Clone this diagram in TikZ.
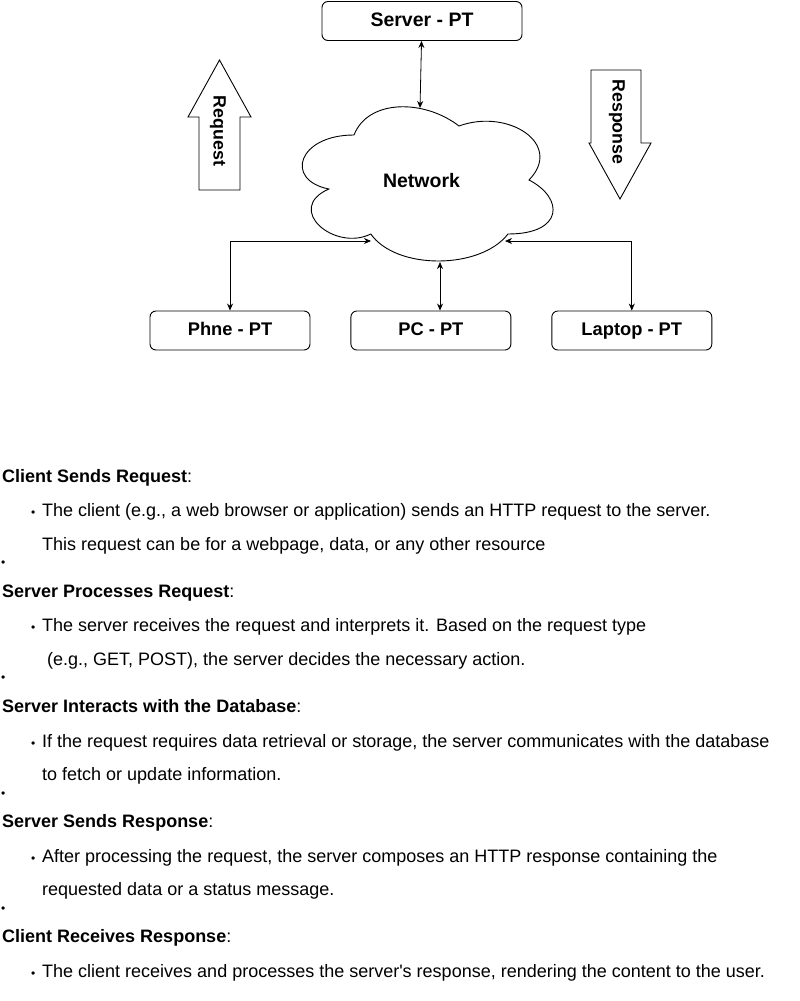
\documentclass[tikz,border=0pt]{standalone}
\usepackage{fontspec}
\setmainfont{Liberation Sans}
\usetikzlibrary{arrows.meta, positioning}

\begin{document}
\begin{tikzpicture}[
		x=1pt, y=-1pt,
		font=\fontsize{18}{21}\selectfont,
		% Styles
		ptbox/.style={draw, line width=0.9pt, rounded corners=6pt, minimum width=160, minimum height=39, text height=13.5pt, text depth=3.5pt, font=\bfseries\fontsize{18.3}{22}\selectfont},
		link/.style={{Stealth[length=7pt, width=6pt]}-{Stealth[length=7pt, width=6pt]}, line width=0.8pt},
		bigarrow/.style={draw, fill=white, line width=0.9pt},
		arrowlabel/.style={rotate=-90, inner sep=0pt, font=\bfseries\fontsize{17.8}{21}\selectfont},
		txt/.style={anchor=base west, inner sep=0pt},
		dot/.style={anchor=base west, inner sep=0pt, font=\fontsize{12}{14}\selectfont}
		]
		
		\useasboundingbox (0,0) rectangle (800,1001);
		\fill[white] (0,0) rectangle (800,1001);
		
		% =========================================================
		% 1. SERVER AND NETWORK CLOUD
		% =========================================================
		\node[ptbox, minimum width=200, font=\bfseries\fontsize{19.5}{22}\selectfont] (server) at (422,21) {Server - PT};
		
		\begin{scope}[shift={(284pt,-90pt)}, x=2.8pt, y=-1.8pt]
			\draw[line width=0.9pt, fill=white] (25,25) .. controls (5,25) and (0,50) .. (16,55)
			.. controls (0,66) and (18,90) .. (31,80)
			.. controls (40,100) and (70,100) .. (80,80)
			.. controls (100,80) and (100,60) .. (87.5,50)
			.. controls (100,30) and (80,10) .. (62.5,20)
			.. controls (50,5) and (30,5) .. (25,25) -- cycle;
		\end{scope}
		\node[font=\bfseries\fontsize{19.5}{22}\selectfont] (net) at (421.5,181) {Network};
		
		% points on the cloud outline
		\coordinate (netN) at (420,108);
		\coordinate (netS) at (440,262);
		\coordinate (netW) at (371,241);
		\coordinate (netE) at (505,241);
		
		% =========================================================
		% 2. REQUEST / RESPONSE ARROWS
		% =========================================================
		\draw[bigarrow] (219.5,60) -- (251,117) -- (240,117) -- (240,190) -- (199,190) -- (199,117) -- (188,117) -- cycle;
		\node[arrowlabel] (req) at (218,131) {Request};
		
		\draw[bigarrow] (591,70) -- (641,70) -- (641,143) -- (651,143) -- (620,199) -- (589,143) -- (591,143) -- cycle;
		\node[arrowlabel] (resp) at (617,122) {Response};
		
		% =========================================================
		% 3. CLIENTS
		% =========================================================
		\node[ptbox] (phone) at (230,330.5) {Phne - PT};
		\node[ptbox, right=40pt of phone] (pc) {PC - PT};
		\node[ptbox, right=40pt of pc] (laptop) {Laptop - PT};
		
		\draw[link] (server) -- (netN);
		\draw[link] (phone.north) |- (netW);
		\draw[link] (pc.north -| netS) -- (netS);
		\draw[link] (laptop.north) |- (netE);
		
		% =========================================================
		% 4. STEPS TEXT
		% =========================================================
		\node[txt] (h1) at (2,482) {\textbf{Client Sends Request}:};
		\node[dot] (d1) at (31,516) {•};
		\node[txt] (t1a) at (42,516) {The client (e.g., a web browser or application) sends an HTTP request to the server.};
		\node[txt] (t1b) at (42,550) {This request can be for a webpage, data, or any other resource};
		\node[dot] (e1) at (1,566) {•};
		
		\node[txt] (h2) at (2,597) {\textbf{Server Processes Request}:};
		\node[dot] (d2) at (31,631) {•};
		\node[txt] (t2a) at (42,631) {The server receives the request and interprets it. Based on the request type};
		\node[txt] (t2b) at (47,665) {(e.g., GET, POST), the server decides the necessary action.};
		\node[dot] (e2) at (1,681) {•};
		
		\node[txt] (h3) at (2,712) {\textbf{Server Interacts with the Database}:};
		\node[dot] (d3) at (31,747) {•};
		\node[txt] (t3a) at (42,747) {If the request requires data retrieval or storage, the server communicates with the database};
		\node[txt] (t3b) at (42,780) {to fetch or update information.};
		\node[dot] (e3) at (1,797) {•};
		
		\node[txt] (h4) at (2,827) {\textbf{Server Sends Response}:};
		\node[dot] (d4) at (31,862) {•};
		\node[txt] (t4a) at (42,862) {After processing the request, the server composes an HTTP response containing the};
		\node[txt] (t4b) at (42,895) {requested data or a status message.};
		\node[dot] (e4) at (1,912) {•};
		
		\node[txt] (h5) at (2,942) {\textbf{Client Receives Response}:};
		\node[dot] (d5) at (31,977) {•};
		\node[txt] (t5a) at (42,977) {The client receives and processes the server\textquotesingle s response, rendering the content to the user.};
		
	\end{tikzpicture}
\end{document}
